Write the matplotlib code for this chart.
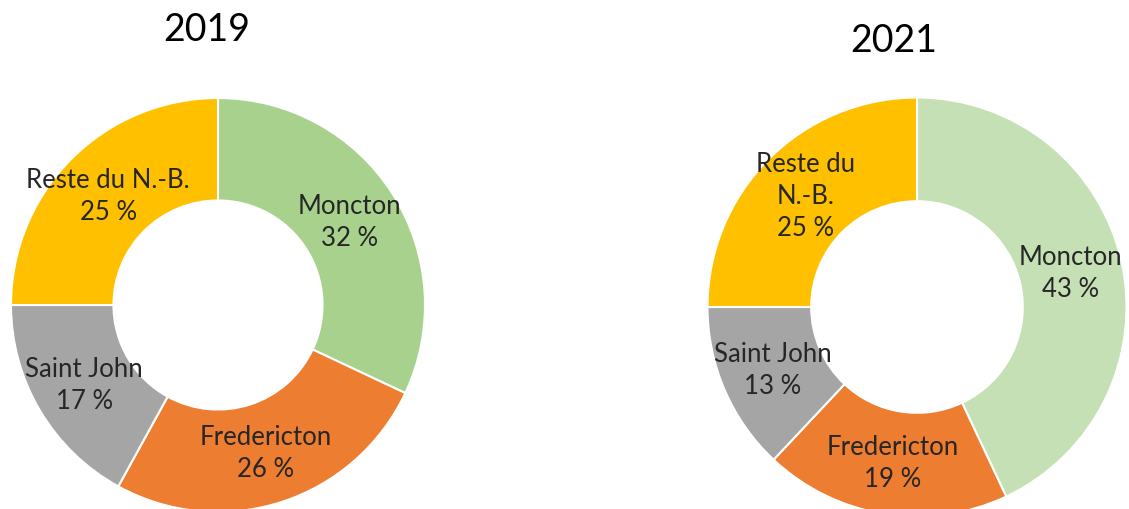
import numpy as np
import matplotlib.pyplot as plt

# données : répartition par région
regions = ["Moncton", "Fredericton", "Saint John", "Reste du N.-B."]
parts_2019 = [32, 26, 17, 25]
parts_2021 = [43, 19, 13, 25]

labels_2019 = ["Moncton", "Fredericton", "Saint John", "Reste du N.-B."]
labels_2021 = ["Moncton", "Fredericton", "Saint John", "Reste du\nN.-B."]

couleurs_2019 = ["#A9D18E", "#ED7D31", "#A5A5A5", "#FFC000"]
couleurs_2021 = ["#C5E0B4", "#ED7D31", "#A5A5A5", "#FFC000"]

plt.rcParams["font.family"] = ["Lato", "DejaVu Sans"]

W, H = 1129, 510
fig = plt.figure(figsize=(W / 100, H / 100), dpi=100)


def donut(cx, cy, r, valeurs, etiquettes, couleurs):
    """Dessine un anneau centré en (cx, cy) pixels depuis le haut, rayon r."""
    ax = fig.add_axes([(cx - r) / W, (H - cy - r) / H, 2 * r / W, 2 * r / H])
    wedges, _ = ax.pie(valeurs, colors=couleurs, startangle=90, counterclock=False,
                       radius=1, wedgeprops=dict(width=0.495, edgecolor="white", linewidth=1.5))
    for w in wedges:
        w.set_clip_on(False)
    for w, lab, v in zip(wedges, etiquettes, valeurs):
        ang = np.deg2rad((w.theta1 + w.theta2) / 2)
        rr = 0.75
        ax.text(rr * np.cos(ang), rr * np.sin(ang), f"{lab}\n{v} %",
                ha="center", va="center", fontsize=18.5, color="#262626",
                linespacing=1.35)
    ax.set_xlim(-1, 1)
    ax.set_ylim(-1, 1)
    ax.set_aspect("equal")
    ax.axis("off")
    return ax


donut(218, 306, 207, parts_2019, labels_2019, couleurs_2019)
donut(917, 308, 209.5, parts_2021, labels_2021, couleurs_2021)

fig.text(207 / W, (H - 30) / H, "2019", ha="center", va="center", fontsize=27, color="black")
fig.text(894 / W, (H - 41) / H, "2021", ha="center", va="center", fontsize=27, color="black")

fig.savefig("out.png", dpi=100)
